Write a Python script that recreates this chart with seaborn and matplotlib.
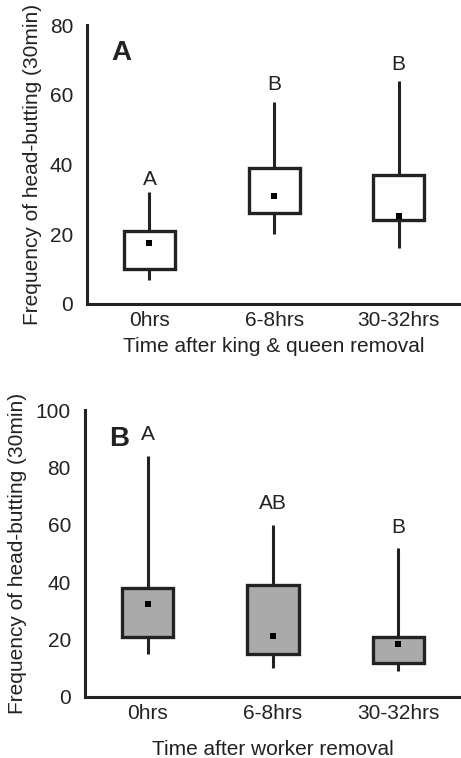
import numpy as np
import pandas as pd
import matplotlib
matplotlib.use("Agg")
import matplotlib.pyplot as plt
import seaborn as sns

sns.set_style("ticks")
plt.rcParams['font.family'] = ['Liberation Sans', 'DejaVu Sans']

categories = ["0hrs", "6-8hrs", "30-32hrs"]

# Panel A: five-number summaries (whisker low, Q1, median, Q3, whisker high)
a_low = [7, 20, 16]
a_q1 = [10, 26, 24]
a_med = [17.6, 31.1, 25.2]
a_q3 = [21, 39, 37]
a_high = [32, 58, 64]
a_letters = ["A", "B", "B"]
a_letter_y = [35.7, 63, 68.8]

# Panel B
b_low = [15, 10, 9]
b_q1 = [21, 15, 12]
b_med = [32.5, 21.4, 18.4]
b_q3 = [38, 39, 21]
b_high = [84, 60, 52]
b_letters = ["A", "AB", "B"]
b_letter_y = [91.4, 67.5, 59.2]

def make_df(low, q1, med, q3, high):
    rows = []
    for i, c in enumerate(categories):
        for v in (low[i], q1[i], med[i], q3[i], high[i]):
            rows.append({"time": c, "value": v})
    return pd.DataFrame(rows)

edge = "#222222"
FS = 15
fig = plt.figure(figsize=(4.61, 7.58), dpi=100)
axA = fig.add_axes([0.189, 0.599, 0.811, 0.368])
axB = fig.add_axes([0.184, 0.0805, 0.816, 0.3785])

def draw(ax, low, q1, med, q3, high, letters, letter_y, fill, ymax, yticks, xlabel, panel, xlabelpad):
    df = make_df(low, q1, med, q3, high)
    sns.boxplot(data=df, x="time", y="value", order=categories, ax=ax,
                whis=(0, 100), width=0.41, showcaps=False, fliersize=0,
                color=fill, saturation=1, linewidth=2.4, linecolor=edge,
                medianprops=dict(linewidth=0, alpha=0),
                whiskerprops=dict(linewidth=2.2, color=edge),
                boxprops=dict(edgecolor=edge, facecolor=fill))
    mdf = pd.DataFrame({"time": categories, "value": med})
    sns.scatterplot(data=mdf, x="time", y="value", ax=ax, marker="s",
                    s=18, color="black", edgecolor="black", linewidth=0, zorder=5)
    for i, (t, y) in enumerate(zip(letters, letter_y)):
        ax.text(i, y, t, ha="center", va="center", fontsize=FS, color="#222222")
    ax.text(0.065, 0.9, panel, transform=ax.transAxes, fontsize=20,
            fontweight="bold", ha="left", va="center", color="#222222")
    ax.set_xlim(-0.5, 2.5)
    ax.set_ylim(0, ymax)
    ax.set_yticks(yticks)
    ax.set_xlabel(xlabel, fontsize=FS, labelpad=xlabelpad, color="#222222")
    ax.set_ylabel("Frequency of head-butting (30min)", fontsize=FS, color="#222222", labelpad=6)
    for s in ("top", "right"):
        ax.spines[s].set_visible(False)
    for s in ("left", "bottom"):
        ax.spines[s].set_linewidth(2.2)
        ax.spines[s].set_color(edge)
    ax.tick_params(axis="y", length=0, pad=10, labelsize=FS, labelcolor="#222222")
    ax.tick_params(axis="x", length=0, pad=5, labelsize=FS, labelcolor="#222222")

draw(axA, a_low, a_q1, a_med, a_q3, a_high, a_letters, a_letter_y, "white", 80,
     [0, 20, 40, 60, 80], "Time after king & queen removal", "A", 5)
draw(axB, b_low, b_q1, b_med, b_q3, b_high, b_letters, b_letter_y, "#aaaaaa", 100,
     [0, 20, 40, 60, 80, 100], "Time after worker removal", "B", 12)

fig.savefig("out.png", dpi=100)
